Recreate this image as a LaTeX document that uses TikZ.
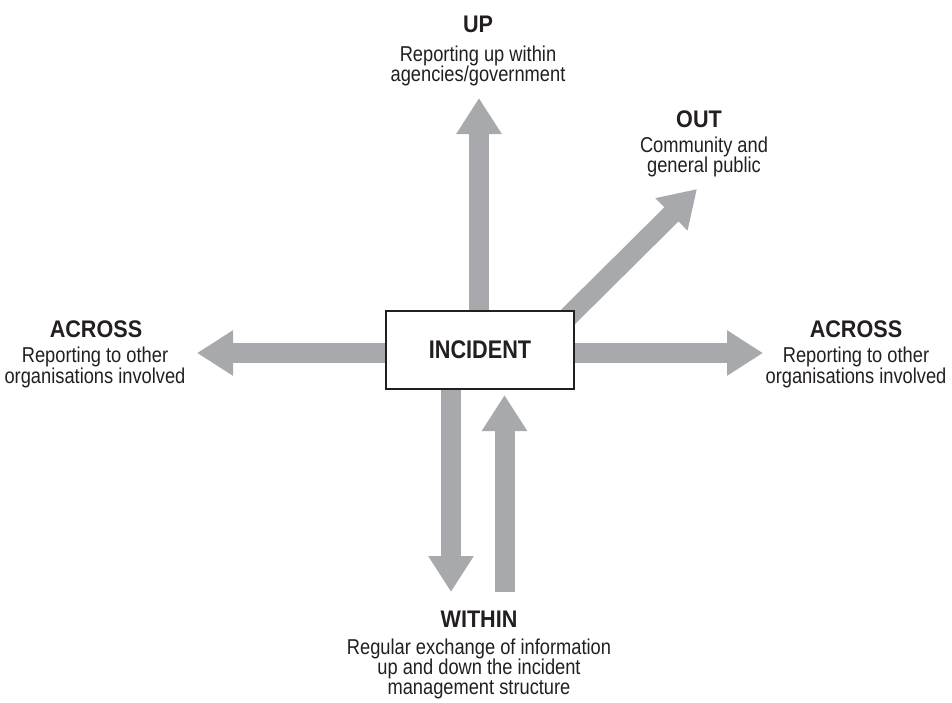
\documentclass[tikz,border=0pt]{standalone}
\usepackage{fontspec}
\setmainfont{Liberation Sans}
\newfontfamily\bodyfont[FakeStretch=0.85]{Liberation Sans}
\newfontfamily\headfont[FakeStretch=0.9]{Liberation Sans Bold}
\newfontfamily\boxfont[FakeStretch=0.85]{Liberation Sans Bold}
\usetikzlibrary{arrows.meta,backgrounds}
\definecolor{flowgray}{RGB}{167,169,172}
\definecolor{ink}{RGB}{35,31,32}
\tikzset{
  flow/.style={draw=flowgray, line width=20pt, -{Triangle[length=36pt,width=43pt]}},
  head/.style={anchor=base, inner sep=0pt, text=ink, font=\headfont\fontsize{24}{24}\selectfont},
  body/.style={anchor=base, inner sep=0pt, text=ink, font=\bodyfont\fontsize{21.5}{21.5}\selectfont},
  hub/.style={draw=ink, line width=1.1pt, fill=white, minimum width=188pt, minimum height=78pt,
              inner sep=0pt, text=ink, font=\boxfont\fontsize{25.5}{25.5}\selectfont},
}
\begin{document}
\begin{tikzpicture}[x=1pt,y=-1pt]
\useasboundingbox (0,0) rectangle (952,702);

% central box
\node[hub] (incident) at (480,350) {INCIDENT};

% free ends of the information flows
\coordinate (upTip) at (479,98);
\coordinate (outTip) at (697,189);
\coordinate (leftTip) at (197,353);
\coordinate (rightTip) at (763,353);
\coordinate (downTip) at (451,592);
\coordinate (riseBase) at (504.5,592);
\coordinate (riseTip) at (504.5,395);

% flows, drawn behind the box
\begin{scope}[on background layer]
  \draw[flow] (incident.center -| upTip) -- (upTip);
  \draw[flow, shorten <=-25pt] (incident.north east) -- (outTip);
  \draw[flow] (incident.center |- leftTip) -- (leftTip);
  \draw[flow] (incident.center |- rightTip) -- (rightTip);
  \draw[flow] (incident.center -| downTip) -- (downTip);
  \draw[flow] (riseBase) -- (riseTip);
\end{scope}

% UP
\node[head] (upHead) at (478,32) {UP};
\node[body] (upLine1) at (478,61) {Reporting up within};
\node[body] (upLine2) at (478,81) {agencies/government};

% OUT
\node[head] (outHead) at (699,127) {OUT};
\node[body] (outLine1) at (704,152) {Community and};
\node[body] (outLine2) at (704,172) {general public};

% ACROSS (left)
\node[head] (leftHead) at (96,337) {ACROSS};
\node[body] (leftLine1) at (95,362) {Reporting to other};
\node[body] (leftLine2) at (95,383) {organisations involved};

% ACROSS (right)
\node[head] (rightHead) at (856,337) {ACROSS};
\node[body] (rightLine1) at (856,362) {Reporting to other};
\node[body] (rightLine2) at (856,383) {organisations involved};

% WITHIN
\node[head] (withinHead) at (479,627) {WITHIN};
\node[body] (withinLine1) at (479,654) {Regular exchange of information};
\node[body] (withinLine2) at (479,674) {up and down the incident};
\node[body] (withinLine3) at (479,694) {management structure};
\end{tikzpicture}
\end{document}
